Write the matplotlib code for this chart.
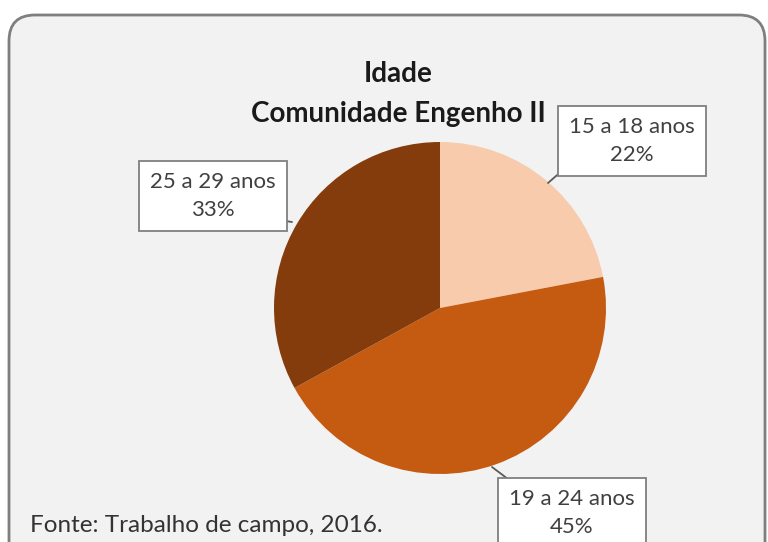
import matplotlib.pyplot as plt
from matplotlib.patches import FancyBboxPatch

categories = ['15 a 18 anos', '19 a 24 anos', '25 a 29 anos']
values = [22, 45, 33]
colors = ['#F8CBAD', '#C55A11', '#843C0C']
title = 'Idade\nComunidade Engenho II'
source = 'Fonte: Trabalho de campo, 2016.'

W, H = 768, 542
plt.rcParams['font.family'] = ['Lato', 'DejaVu Sans']

fig = plt.figure(figsize=(W / 100, H / 100), dpi=100, facecolor='white')

# background axes in pixel coordinates
bg = fig.add_axes([0, 0, 1, 1])
bg.set_xlim(0, W)
bg.set_ylim(H, 0)
bg.axis('off')
bg.add_patch(FancyBboxPatch((9, 15), 756, 560, boxstyle='round,pad=0,rounding_size=26',
                            facecolor='#F2F2F2', edgecolor='#7F7F7F', linewidth=2))
bg.text(398, 94, title, ha='center', va='center', fontsize=20, fontweight='bold',
        linespacing=1.7, color='#1a1a1a')
bg.text(30, 526, source, ha='left', va='center', fontsize=17.5, color='#333333')

# pie axes: center (440, 308), radius 166 px
cx, cy, r = 440, 308, 166
ax = fig.add_axes([(cx - r) / W, (H - cy - r) / H, 2 * r / W, 2 * r / H])
ax.pie(values, colors=colors, startangle=90, counterclock=False, radius=1,
       wedgeprops=dict(linewidth=0))
ax.set_xlim(-1, 1)
ax.set_ylim(-1, 1)
ax.set_aspect('auto')
ax.axis('off')

def px(x, y):
    return ((x - cx) / r, (cy - y) / r)

# label text centre and pointer target (pixels)
label_pos = [(632, 141), (572, 513), (213, 196)]
point_pos = [(548, 183), (492, 467), (292, 222)]
relpos = [(0, 0), (0.1, 1), (1, 0)]

for cat, v, lp, pp, rp in zip(categories, values, label_pos, point_pos, relpos):
    ax.annotate(f'{cat}\n{v}%', xy=px(*pp), xytext=px(*lp), textcoords='data',
                ha='center', va='center', fontsize=16, color='#404040',
                linespacing=1.45, annotation_clip=False,
                bbox=dict(boxstyle='square,pad=0.5', facecolor='white',
                          edgecolor='#7F7F7F', linewidth=1.3),
                arrowprops=dict(arrowstyle='-', color='#595959', linewidth=1.3,
                                shrinkA=0, shrinkB=0, relpos=rp))

fig.savefig('out.png', dpi=100)
